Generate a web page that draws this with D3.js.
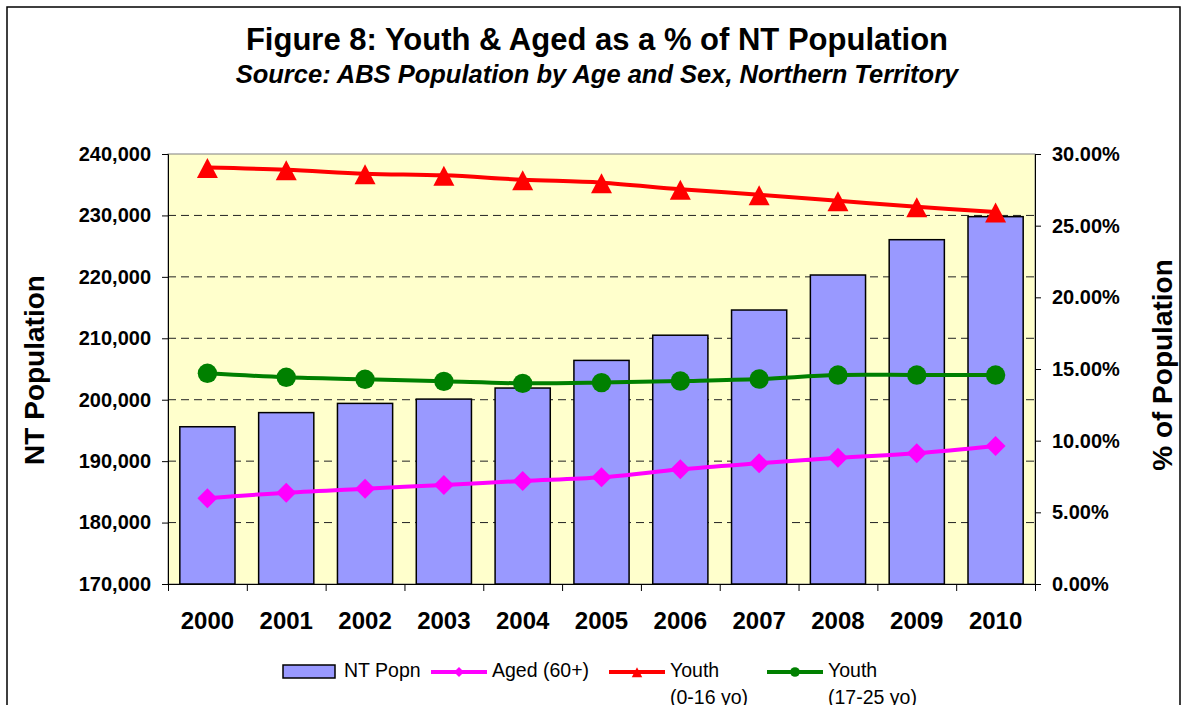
<!DOCTYPE html>
<html>
<head>
<meta charset="utf-8">
<script src="https://cdn.jsdelivr.net/npm/d3@7"></script>
<style>
  body { margin: 0; background: #fff; }
  svg { display: block; font-family: "Liberation Sans", Arial, sans-serif; }
</style>
</head>
<body>
<div id="chart"></div>
<script>
// Chart data
var years = ["2000", "2001", "2002", "2003", "2004", "2005", "2006", "2007", "2008", "2009", "2010"];
var ntPopn = [195600, 197900, 199400, 200100, 201900, 206400, 210500, 214600, 220300, 226050, 229800];
var aged = [5.98, 6.37, 6.65, 6.91, 7.19, 7.44, 8.0, 8.42, 8.81, 9.12, 9.63];
var youth016 = [29.05, 28.9, 28.63, 28.51, 28.21, 28.0, 27.54, 27.16, 26.74, 26.32, 25.95];
var youth1725 = [14.7, 14.42, 14.28, 14.14, 14.0, 14.05, 14.16, 14.3, 14.58, 14.58, 14.58];
var leftTicks = [170000, 180000, 190000, 200000, 210000, 220000, 230000, 240000];
var rightTicks = [0, 5, 10, 15, 20, 25, 30];

function init() {
  const W = 1188, H = 705;
  const left = 168, right = 1035, top = 154, bottom = 584;

  const svg = d3.select("#chart").append("svg")
    .attr("width", W)
    .attr("height", H);

  // outer frame
  svg.append("rect")
    .attr("x", 7).attr("y", 7)
    .attr("width", 1173).attr("height", 730)
    .attr("fill", "#fff")
    .attr("stroke", "#000")
    .attr("stroke-width", 1.5);

  // titles
  svg.append("text")
    .attr("x", 597).attr("y", 50)
    .attr("text-anchor", "middle")
    .style("font-size", "31px").style("font-weight", "bold")
    .text("Figure 8: Youth & Aged as a % of NT Population");

  svg.append("text")
    .attr("x", 597).attr("y", 83)
    .attr("text-anchor", "middle")
    .style("font-size", "25.5px").style("font-weight", "bold").style("font-style", "italic")
    .text("Source: ABS Population by Age and Sex, Northern Territory");

  const xScale = d3.scaleBand()
    .domain(years)
    .range([left, right])
    .paddingInner(0.3)
    .paddingOuter(0.15);

  const xEdge = d3.scaleLinear()
    .domain([0, years.length])
    .range([left, right]);

  const yLeft = d3.scaleLinear()
    .domain([170000, 240000])
    .range([bottom, top]);

  const yRight = d3.scaleLinear()
    .domain([0, 30])
    .range([bottom, top]);

  // plot background
  svg.append("rect")
    .attr("x", left).attr("y", top)
    .attr("width", right - left).attr("height", bottom - top)
    .attr("fill", "#FFFFCC")
    .attr("stroke", "#808080")
    .attr("stroke-width", 1);

  // dashed grid
  svg.append("g")
    .selectAll("line")
    .data(leftTicks.slice(1, -1))
    .enter()
    .append("line")
    .attr("x1", left).attr("x2", right)
    .attr("y1", (d) => yLeft(d)).attr("y2", (d) => yLeft(d))
    .attr("stroke", "#222")
    .attr("stroke-width", 1)
    .attr("stroke-dasharray", "8,5");

  // bars
  svg.append("g")
    .selectAll("rect")
    .data(ntPopn)
    .enter()
    .append("rect")
    .attr("x", (d, i) => xScale(years[i]))
    .attr("y", (d) => yLeft(d))
    .attr("width", xScale.bandwidth())
    .attr("height", (d) => bottom - yLeft(d))
    .attr("fill", "#9999FF")
    .attr("stroke", "#000")
    .attr("stroke-width", 1.5);

  // left axis
  const axL = svg.append("g")
    .attr("transform", "translate(" + left + ",0)")
    .call(d3.axisLeft(yLeft).tickValues(leftTicks).tickSize(6).tickPadding(11)
      .tickFormat(d3.format(",")));
  axL.select(".domain").attr("stroke", "#000");
  axL.selectAll("text")
    .style("font-size", "20px").style("font-weight", "bold")
    .style("font-family", "'Liberation Sans', Arial, sans-serif");

  // right axis
  const axR = svg.append("g")
    .attr("transform", "translate(" + right + ",0)")
    .call(d3.axisRight(yRight).tickValues(rightTicks).tickSize(6).tickPadding(11)
      .tickFormat((d) => d.toFixed(2) + "%"));
  axR.select(".domain").attr("stroke", "#000");
  axR.selectAll("text")
    .style("font-size", "20px").style("font-weight", "bold")
    .style("font-family", "'Liberation Sans', Arial, sans-serif");

  // bottom axis: ticks at category edges
  const axB = svg.append("g")
    .attr("transform", "translate(0," + bottom + ")")
    .call(d3.axisBottom(xEdge).ticks(years.length).tickSize(7).tickFormat(""));
  axB.select(".domain").attr("stroke", "#000");

  svg.append("g")
    .selectAll("text")
    .data(years)
    .enter()
    .append("text")
    .attr("x", (d) => xScale(d) + xScale.bandwidth() / 2)
    .attr("y", 629)
    .attr("text-anchor", "middle")
    .style("font-size", "24px").style("font-weight", "bold")
    .text((d) => d);

  // axis titles
  svg.append("text")
    .attr("transform", "translate(34,370) rotate(-90)")
    .attr("text-anchor", "middle")
    .attr("dominant-baseline", "central")
    .style("font-size", "28px").style("font-weight", "bold")
    .text("NT Population");

  svg.append("text")
    .attr("transform", "translate(1162,365) rotate(-90)")
    .attr("text-anchor", "middle")
    .attr("dominant-baseline", "central")
    .style("font-size", "28px").style("font-weight", "bold")
    .text("% of Population");

  // lines
  const cx = (i) => xScale(years[i]) + xScale.bandwidth() / 2;
  const line = d3.line()
    .x((d, i) => cx(i))
    .y((d) => yRight(d))
    .curve(d3.curveCardinal.tension(0));

  const series = [
    { values: aged, color: "#FF00FF", marker: "diamond" },
    { values: youth016, color: "#FF0000", marker: "triangle" },
    { values: youth1725, color: "#008000", marker: "circle" }
  ];

  series.forEach(function(s) {
    svg.append("path")
      .datum(s.values)
      .attr("d", line)
      .attr("fill", "none")
      .attr("stroke", s.color)
      .attr("stroke-width", 4);

    const g = svg.append("g");
    s.values.forEach(function(v, i) {
      drawMarker(g, s.marker, cx(i), yRight(v), s.color, 1);
    });
  });

  // legend
  const lg = svg.append("g").style("font-size", "19.5px");
  lg.append("rect")
    .attr("x", 283).attr("y", 665)
    .attr("width", 52).attr("height", 13)
    .attr("fill", "#9999FF")
    .attr("stroke", "#000")
    .attr("stroke-width", 1.5);
  lg.append("text").attr("x", 344).attr("y", 677).text("NT Popn");

  var legendLines = [
    { x: 431, color: "#FF00FF", marker: "diamond", label: ["Aged (60+)"] },
    { x: 609, color: "#FF0000", marker: "triangle", label: ["Youth", "(0-16 yo)"] },
    { x: 767, color: "#008000", marker: "circle", label: ["Youth", "(17-25 yo)"] }
  ];
  legendLines.forEach(function(l) {
    lg.append("line")
      .attr("x1", l.x).attr("x2", l.x + 56)
      .attr("y1", 672).attr("y2", 672)
      .attr("stroke", l.color)
      .attr("stroke-width", 4);
    drawMarker(lg, l.marker, l.x + 28, 672, l.color, 0.5);
    l.label.forEach(function(t, j) {
      lg.append("text")
        .attr("x", l.x + 61)
        .attr("y", 677 + j * 27)
        .text(t);
    });
  });
}

function drawMarker(g, type, x, y, color, k) {
  if (type === "circle") {
    g.append("circle")
      .attr("cx", x).attr("cy", y).attr("r", 9.7 * k)
      .attr("fill", color);
  } else if (type === "diamond") {
    const h = 10 * k;
    g.append("path")
      .attr("d", "M" + x + "," + (y - h) + "L" + (x + h) + "," + y +
        "L" + x + "," + (y + h) + "L" + (x - h) + "," + y + "Z")
      .attr("fill", color);
  } else {
    const w = 10.5 * k;
    g.append("path")
      .attr("d", "M" + x + "," + (y - 9.5 * k) + "L" + (x + w) + "," + (y + 10.5 * k) +
        "L" + (x - w) + "," + (y + 10.5 * k) + "Z")
      .attr("fill", color);
  }
}

window.onload = init;
</script>
</body>
</html>
